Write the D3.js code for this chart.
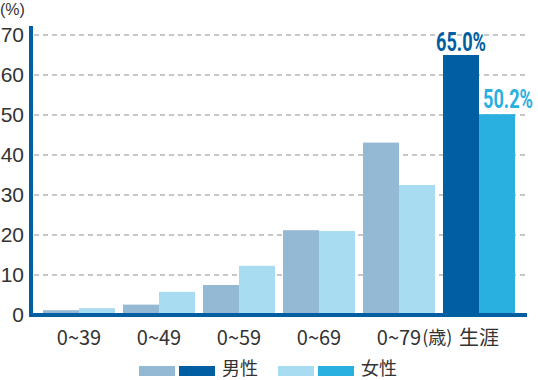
<!DOCTYPE html>
<html><head><meta charset="utf-8">
<script src="https://cdn.jsdelivr.net/npm/d3@7"></script>
<style>
html,body{margin:0;padding:0;background:#fff;}
svg{display:block;}
text{font-family:"Noto Sans CJK JP","Noto Sans",sans-serif;fill:#333;}
</style></head>
<body>
<svg id="chart" width="538" height="380"></svg>
<script>
const categories = ["0~39","0~49","0~59","0~69","0~79","生涯"];
const ageUnit = "(歳)";
const male = [1.2, 2.6, 7.5, 21.2, 43.1, 65.0];
const female = [1.7, 5.8, 12.3, 21.0, 32.5, 50.2];
const yTicks = [0,10,20,30,40,50,60,70];
const highlightLabels = ["65.0%","50.2%"];
const legendNames = ["男性","女性"];

const colors = {
  maleLight:"#93b9d4", maleDark:"#005ea1",
  femaleLight:"#a8dcf0", femaleDark:"#29b0e0",
  axis:"#005ea1", grid:"#c8c8c8"
};

const svg = d3.select("#chart");
const plotLeft = 31, plotRight = 527, plotTop = 35, plotBottom = 315;

const y = d3.scaleLinear().domain([0,70]).range([plotBottom, plotTop]);
const x = d3.scaleBand().domain(categories).range([39, 519]).paddingInner(0.1).paddingOuter(0.05);
const xs = d3.scaleBand().domain(["m","f"]).range([0, x.bandwidth()]);

// grid lines
svg.append("g").selectAll("line").data(yTicks.filter(d=>d>0)).join("line")
  .attr("x1", 34).attr("x2", plotRight)
  .attr("y1", d=>y(d)).attr("y2", d=>y(d))
  .attr("stroke", colors.grid).attr("stroke-width", 2).attr("stroke-dasharray","5,4");

// y tick labels
const yAxis = d3.axisLeft(y).tickValues(yTicks).tickSize(0).tickPadding(6);
const yg = svg.append("g").attr("transform", `translate(${plotLeft-1},0)`).call(yAxis);
yg.select(".domain").remove();
yg.selectAll("text").attr("font-size", 21).attr("fill","#333")
  .style("font-family",'"Liberation Sans","Noto Sans",sans-serif');

// bars
const n = categories.length;
const g = svg.append("g");
categories.forEach((c,i)=>{
  const last = i === n-1;
  g.append("rect").attr("x", x(c)+xs("m")).attr("width", xs.bandwidth())
    .attr("y", y(male[i])).attr("height", y(0)-y(male[i]))
    .attr("fill", last ? colors.maleDark : colors.maleLight);
  g.append("rect").attr("x", x(c)+xs("f")).attr("width", xs.bandwidth())
    .attr("y", y(female[i])).attr("height", y(0)-y(female[i]))
    .attr("fill", last ? colors.femaleDark : colors.femaleLight);
});

// axes lines
svg.append("line").attr("x1", plotLeft).attr("x2", plotLeft).attr("y1", 26).attr("y2", plotBottom+2)
  .attr("stroke", colors.axis).attr("stroke-width", 4);
svg.append("line").attr("x1", plotLeft-2).attr("x2", plotRight).attr("y1", plotBottom).attr("y2", plotBottom)
  .attr("stroke", colors.axis).attr("stroke-width", 4);

// x labels
categories.forEach((c,i)=>{
  const cx = x(c) + x.bandwidth()/2;
  const t = svg.append("text").attr("x", cx).attr("y", 345).attr("text-anchor","middle")
    .attr("font-size", 20).text(c);
  if (i === n-2) {
    const w = t.node().getComputedTextLength();
    svg.append("text").attr("x", cx + w/2 + 1).attr("y", 344).attr("font-size", 18).text(ageUnit);
  }
});

// "(%)"
svg.append("text").attr("x", 0).attr("y", 15).attr("font-size", 16)
  .style("font-family",'"Liberation Sans",sans-serif').text("(%)");

// highlight labels (condensed via horizontal scale)
const li = n-1;
const ann = [
  {v: male[li], cx: x(categories[li]) + xs("m") + xs.bandwidth()/2, col: colors.maleDark, t: highlightLabels[0], dy: 4},
  {v: female[li], cx: x(categories[li]) + xs("f") + xs.bandwidth()/2 + 11, col: colors.femaleDark, t: highlightLabels[1], dy: 6}
];
ann.forEach(a=>{
  const tg = svg.append("g");
  const t = tg.append("text").attr("x", 0).attr("y", 0).attr("text-anchor","middle")
    .attr("font-size", 25).attr("font-weight","bold")
    .style("font-family",'"Roboto","Liberation Sans",sans-serif')
    .style("fill", a.col).text(a.t);
  const w = t.node().getComputedTextLength();
  const sx = 50 / w;
  tg.attr("transform", `translate(${a.cx},${y(a.v)-a.dy}) scale(${sx},1)`);
});

// legend
const legend = [
  {x:139, c1:colors.maleLight, c2:colors.maleDark, name:legendNames[0]},
  {x:278, c1:colors.femaleLight, c2:colors.femaleDark, name:legendNames[1]}
];
legend.forEach(l=>{
  svg.append("rect").attr("x", l.x).attr("y", 366).attr("width", 36).attr("height", 10).attr("fill", l.c1);
  svg.append("rect").attr("x", l.x+40).attr("y", 366).attr("width", 36).attr("height", 10).attr("fill", l.c2);
  svg.append("text").attr("x", l.x+83).attr("y", 375).attr("font-size", 18).text(l.name);
});
</script>
</body></html>
